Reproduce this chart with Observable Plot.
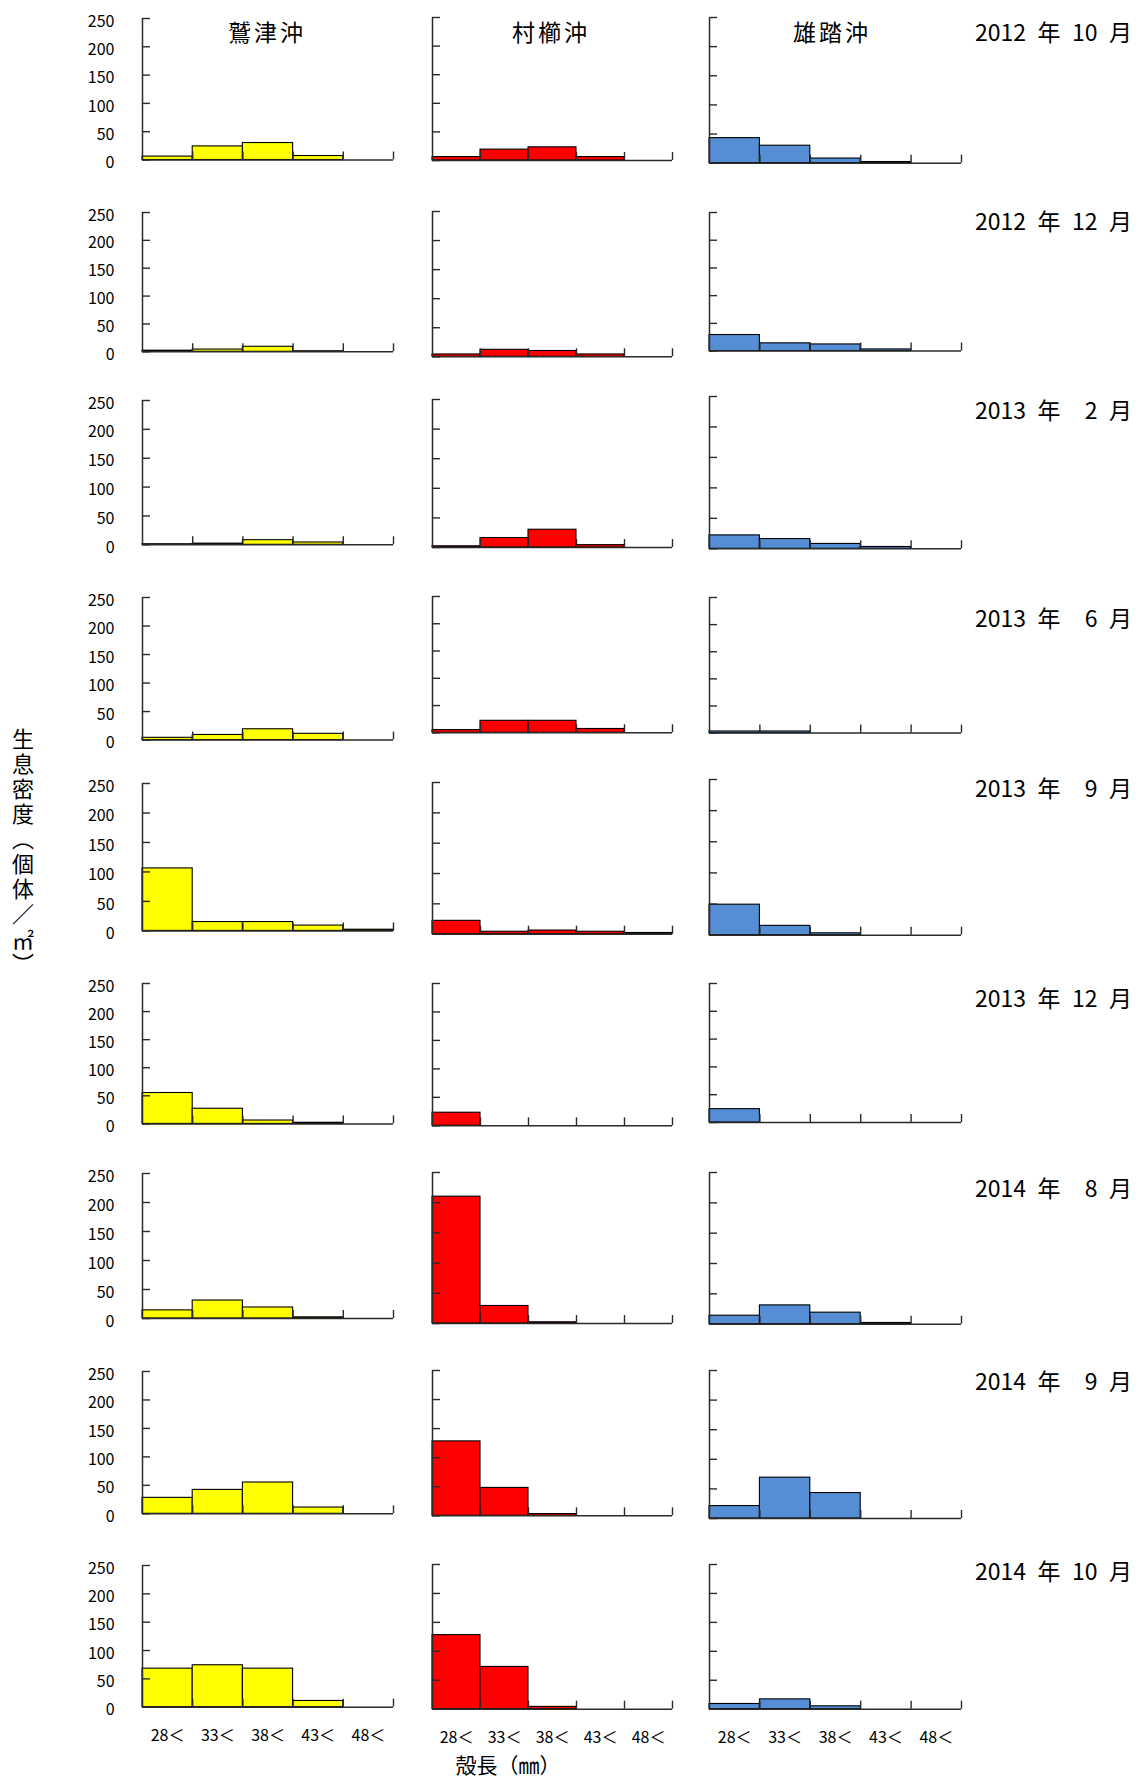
<!DOCTYPE html>
<html><head><meta charset="utf-8">
<script src="https://cdn.jsdelivr.net/npm/d3@7"></script>
<script src="https://cdn.jsdelivr.net/npm/@observablehq/plot@0.6"></script>
<style>
body{margin:0;background:#fff;}
#root{position:relative;width:1139px;height:1783px;font-family:"Noto Sans CJK JP",sans-serif;overflow:hidden;background:#fff;}
.panel{position:absolute;}
.lbl{position:absolute;white-space:pre;color:#000;line-height:1;}
</style></head><body><div id="root"></div>
<script>
// ---- data ----
const sites = ["鷲津沖", "村櫛沖", "雄踏沖"];
const sizeClasses = ["28＜", "33＜", "38＜", "43＜", "48＜"];
const surveys = ["2012\u2002年\u200210\u2002月", "2012\u2002年\u200212\u2002月", "2013\u2002年\u2002\u20072\u2002月",
  "2013\u2002年\u2002\u20076\u2002月", "2013\u2002年\u2002\u20079\u2002月", "2013\u2002年\u200212\u2002月",
  "2014\u2002年\u2002\u20078\u2002月", "2014\u2002年\u2002\u20079\u2002月", "2014\u2002年\u200210\u2002月"];
// density (individuals / m²) per size class, one row per survey
const washizu = [
  [6, 24, 30, 7, 0], [2, 4, 9, 1, 0], [1, 2, 8, 4, 0], [4, 9, 19, 11, 0], [106, 15, 15, 9, 2],
  [55, 27, 6, 2, 0], [14, 31, 19, 2, 0], [28, 42, 55, 11, 0], [68, 74, 68, 11, 0]];
const murakushi = [
  [6, 19, 23, 6, 0], [4, 12, 10, 4, 0], [2, 16, 30, 4, 0], [5, 22, 22, 7, 0], [22, 4, 6, 4, 2],
  [23, 0, 0, 0, 0], [210, 29, 2, 0, 0], [128, 48, 3, 0, 0], [128, 73, 4, 0, 0]];
const yuto = [
  [43, 30, 8, 2, 0], [29, 14, 12, 3, 0], [22, 16, 8, 3, 0], [3, 3, 0, 0, 0], [49, 15, 3, 0, 0],
  [24, 0, 0, 0, 0], [14, 31, 19, 2, 0], [21, 69, 43, 0, 0], [9, 17, 5, 0, 0]];
const yTicks = [0, 50, 100, 150, 200, 250];
const yTitle = "生息密度（個体／㎡）";
const xTitle = "殻長（㎜）";

// ---- layout / style ----
const seriesBySite = [washizu, murakushi, yuto];
const colors = ["#ffff00", "#ff0000", "#558ed5"];
const colX = [[142, 393], [432, 672], [709, 961]];
const panelY = [
  [[18, 159.5], [17, 160], [17, 162.7]],
  [[211.7, 351], [210.7, 356], [211.7, 350.3]],
  [[400, 544.3], [399, 547], [396, 548.3]],
  [[596.7, 739.3], [596, 732.3], [596.7, 732.3]],
  [[783.3, 930.7], [782.3, 934], [779, 934.7]],
  [[983.3, 1123.7], [982.7, 1125], [982.7, 1121.7]],
  [[1173.3, 1318.3], [1172.3, 1323.3], [1172.3, 1324]],
  [[1370.7, 1513], [1370, 1515.3], [1370, 1518]],
  [[1565, 1706.7], [1564.3, 1709], [1564.3, 1709]]];
const surveyLabelY = [31, 220, 409, 617, 787, 997, 1187, 1380, 1570];

const root = document.getElementById("root");
const ml = 45, mr = 12, mt = 12, mb = 45;
const axisColor = "#2a2a2a";

surveys.forEach((survey, r) => {
  seriesBySite.forEach((series, c) => {
    const [x1, x2] = colX[c];
    const [yt, yz] = panelY[r][c];
    const w = x2 - x1, h = yz - yt;
    const data = series[r].map((v, i) => ({bin: i, v})).filter(d => d.v > 0);
    const marks = [
      Plot.rectY(data, {x1: "bin", x2: d => d.bin + 1, y1: 0, y2: "v", fill: colors[c], stroke: "#000", strokeWidth: 1.1}),
      Plot.ruleX([0], {y1: 0, y2: 250, stroke: axisColor, strokeWidth: 1.5}),
      Plot.ruleY([0], {x1: 0, x2: 5, stroke: axisColor, strokeWidth: 1.5}),
      Plot.axisY({ticks: yTicks, tickSize: -8, tickFormat: () => "", label: null, stroke: axisColor, strokeWidth: 1.4}),
      Plot.axisX({ticks: [1, 2, 3, 4, 5], tickSize: -8, tickFormat: () => "", label: null, stroke: axisColor, strokeWidth: 1.4})
    ];
    if (c === 0) marks.push(Plot.axisY({ticks: yTicks, tickSize: 0, tickPadding: 28, dy: 3, label: null, fontSize: 16, fill: "#000"}));
    if (r === surveys.length - 1) marks.push(Plot.axisX({ticks: [0.5, 1.5, 2.5, 3.5, 4.5], tickSize: 0, tickPadding: 22,
      tickFormat: t => sizeClasses[Math.floor(t)], label: null, fontSize: 16, fill: "#000"}));
    const svg = Plot.plot({
      width: w + ml + mr, height: h + mt + mb,
      marginLeft: ml, marginRight: mr, marginTop: mt, marginBottom: mb,
      x: {type: "linear", domain: [0, 5], axis: null, label: null},
      y: {type: "linear", domain: [0, 250], axis: null, label: null},
      style: {fontFamily: "'Noto Sans CJK JP', sans-serif", fontSize: "16px", color: "#000", background: "transparent", overflow: "visible"},
      marks
    });
    svg.classList.add("panel");
    svg.style.left = (x1 - ml) + "px";
    svg.style.top = (yt - mt) + "px";
    root.appendChild(svg);
  });
  const lab = document.createElement("div");
  lab.className = "lbl";
  lab.textContent = survey;
  lab.style.cssText += `left:975px;top:${surveyLabelY[r]}px;transform:translateY(-50%);font-size:23px;`;
  root.appendChild(lab);
});

const siteCenters = [267, 551, 832];
sites.forEach((s, c) => {
  const d = document.createElement("div");
  d.className = "lbl";
  d.textContent = s;
  d.style.cssText += `left:${siteCenters[c]}px;top:31px;transform:translate(-50%,-50%);font-size:23px;letter-spacing:3px;`;
  root.appendChild(d);
});

const yt = document.createElement("div");
yt.className = "lbl";
yt.textContent = yTitle;
yt.style.cssText += "left:23px;top:853px;transform:translate(-50%,-50%);font-size:22px;writing-mode:vertical-rl;letter-spacing:3px;";
root.appendChild(yt);

const xt = document.createElement("div");
xt.className = "lbl";
xt.textContent = xTitle;
xt.style.cssText += "left:508px;top:1764px;transform:translate(-50%,-50%);font-size:21px;";
root.appendChild(xt);
</script>
</body></html>
